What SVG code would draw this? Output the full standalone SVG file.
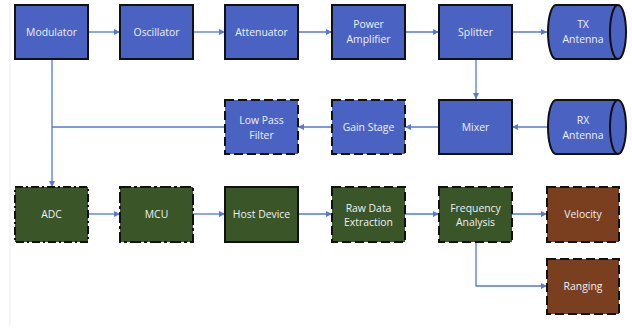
<svg xmlns="http://www.w3.org/2000/svg" width="632" height="329" viewBox="0 0 632 329">
  <defs>
    <marker id="arrow" viewBox="0 0 10 10" refX="10" refY="5" markerWidth="6" markerHeight="6" markerUnits="userSpaceOnUse" orient="auto">
      <path d="M0,0 L10,5 L0,10 Z" fill="#5677d4"/>
    </marker>
    <style>
      .blue { fill: #4a63c2; }
      .green { fill: #3a5527; }
      .brown { fill: #7a3f1e; }
      .box { stroke: #111; stroke-width: 2; }
      .dash { stroke-dasharray: 9 4; }
      .dashdot { stroke-dasharray: 8 3 2 3; }
      .longdashdot { stroke-dasharray: 11 3 3 3; }
      .lbl { font-family: "Open Sans", "Liberation Sans", sans-serif; font-size: 10.4px; fill: #eef0f7; text-anchor: middle; }
      .wire { fill: none; stroke: #5677d4; stroke-width: 1.3; }
    </style>
  </defs>
  <rect width="632" height="329" fill="#fff"/>
  <line x1="10" y1="0" x2="10" y2="326" stroke="#ececec" stroke-width="1"/>

  <!-- connectors -->
  <g id="connectors">
    <line class="wire" x1="88" y1="32" x2="120" y2="32" marker-end="url(#arrow)"/>
    <line class="wire" x1="193" y1="32" x2="225" y2="32" marker-end="url(#arrow)"/>
    <line class="wire" x1="298" y1="32" x2="332" y2="32" marker-end="url(#arrow)"/>
    <line class="wire" x1="405" y1="32" x2="439" y2="32" marker-end="url(#arrow)"/>
    <line class="wire" x1="512" y1="32" x2="547" y2="32" marker-end="url(#arrow)"/>
    <line class="wire" x1="476" y1="59" x2="476" y2="99" marker-end="url(#arrow)"/>
    <line class="wire" x1="547" y1="127" x2="512" y2="127" marker-end="url(#arrow)"/>
    <line class="wire" x1="439" y1="127" x2="405" y2="127" marker-end="url(#arrow)"/>
    <line class="wire" x1="332" y1="127" x2="298" y2="127" marker-end="url(#arrow)"/>
    <line class="wire" x1="225" y1="127" x2="52" y2="127"/>
    <line class="wire" x1="52" y1="59" x2="52" y2="187" marker-end="url(#arrow)"/>
    <line class="wire" x1="88" y1="214" x2="120" y2="214" marker-end="url(#arrow)"/>
    <line class="wire" x1="193" y1="214" x2="225" y2="214" marker-end="url(#arrow)"/>
    <line class="wire" x1="298" y1="214" x2="332" y2="214" marker-end="url(#arrow)"/>
    <line class="wire" x1="405" y1="214" x2="439" y2="214" marker-end="url(#arrow)"/>
    <line class="wire" x1="512" y1="214" x2="547" y2="214" marker-end="url(#arrow)"/>
    <polyline class="wire" points="476,242 476,286 547,286" marker-end="url(#arrow)"/>
  </g>

  <!-- transmit chain -->
  <g id="modulator">
    <rect class="box blue" x="15" y="5" width="73" height="54"/>
    <text class="lbl" x="51.5" y="35.5">Modulator</text>
  </g>
  <g id="oscillator">
    <rect class="box blue" x="120" y="5" width="73" height="54"/>
    <text class="lbl" x="156.5" y="35.5">Oscillator</text>
  </g>
  <g id="attenuator">
    <rect class="box blue" x="225" y="5" width="73" height="54"/>
    <text class="lbl" x="261.5" y="35.5">Attenuator</text>
  </g>
  <g id="power-amplifier">
    <rect class="box blue" x="332" y="5" width="73" height="54"/>
    <text class="lbl" x="368.5" y="28">Power</text>
    <text class="lbl" x="368.5" y="42.5">Amplifier</text>
  </g>
  <g id="splitter">
    <rect class="box blue" x="439" y="5" width="73" height="54"/>
    <text class="lbl" x="475.5" y="35.5">Splitter</text>
  </g>
  <g id="tx-antenna">
    <path class="box blue" d="M556,5 L618,5 A8,27 0 0 1 618,59 L556,59 A8,27 0 0 1 556,5 Z"/>
    <path d="M618,5 A8,27 0 0 0 618,59" fill="none" stroke="#111" stroke-width="2"/>
    <text class="lbl" x="583" y="28">TX</text>
    <text class="lbl" x="583" y="42.5">Antenna</text>
  </g>

  <!-- receive chain -->
  <g id="low-pass-filter">
    <rect class="box blue dash" x="225" y="100" width="73" height="54"/>
    <text class="lbl" x="261.5" y="124">Low Pass</text>
    <text class="lbl" x="261.5" y="138.5">Filter</text>
  </g>
  <g id="gain-stage">
    <rect class="box blue dash" x="332" y="100" width="73" height="54"/>
    <text class="lbl" x="368.5" y="130.5">Gain Stage</text>
  </g>
  <g id="mixer">
    <rect class="box blue" x="439" y="100" width="73" height="54"/>
    <text class="lbl" x="475.5" y="130.5">Mixer</text>
  </g>
  <g id="rx-antenna">
    <path class="box blue" d="M556,100 L618,100 A8,27 0 0 1 618,154 L556,154 A8,27 0 0 1 556,100 Z"/>
    <path d="M618,100 A8,27 0 0 0 618,154" fill="none" stroke="#111" stroke-width="2"/>
    <text class="lbl" x="583" y="124">RX</text>
    <text class="lbl" x="583" y="138.5">Antenna</text>
  </g>

  <!-- processing chain -->
  <g id="adc">
    <rect class="box green dashdot" x="15" y="187" width="73" height="55"/>
    <text class="lbl" x="51.5" y="218">ADC</text>
  </g>
  <g id="mcu">
    <rect class="box green longdashdot" x="120" y="187" width="73" height="55"/>
    <text class="lbl" x="156.5" y="218">MCU</text>
  </g>
  <g id="host-device">
    <rect class="box green" x="225" y="187" width="73" height="55"/>
    <text class="lbl" x="261.5" y="218">Host Device</text>
  </g>
  <g id="raw-data-extraction">
    <rect class="box green dash" x="332" y="187" width="73" height="55"/>
    <text class="lbl" x="368.5" y="211.5">Raw Data</text>
    <text class="lbl" x="368.5" y="226">Extraction</text>
  </g>
  <g id="frequency-analysis">
    <rect class="box green dash" x="439" y="187" width="73" height="55"/>
    <text class="lbl" x="475.5" y="211.5">Frequency</text>
    <text class="lbl" x="475.5" y="226">Analysis</text>
  </g>
  <g id="velocity">
    <rect class="box brown dash" x="547" y="187" width="72" height="55"/>
    <text class="lbl" x="583" y="218">Velocity</text>
  </g>
  <g id="ranging">
    <rect class="box brown dash" x="547" y="259" width="72" height="55"/>
    <text class="lbl" x="583" y="290">Ranging</text>
  </g>
</svg>
